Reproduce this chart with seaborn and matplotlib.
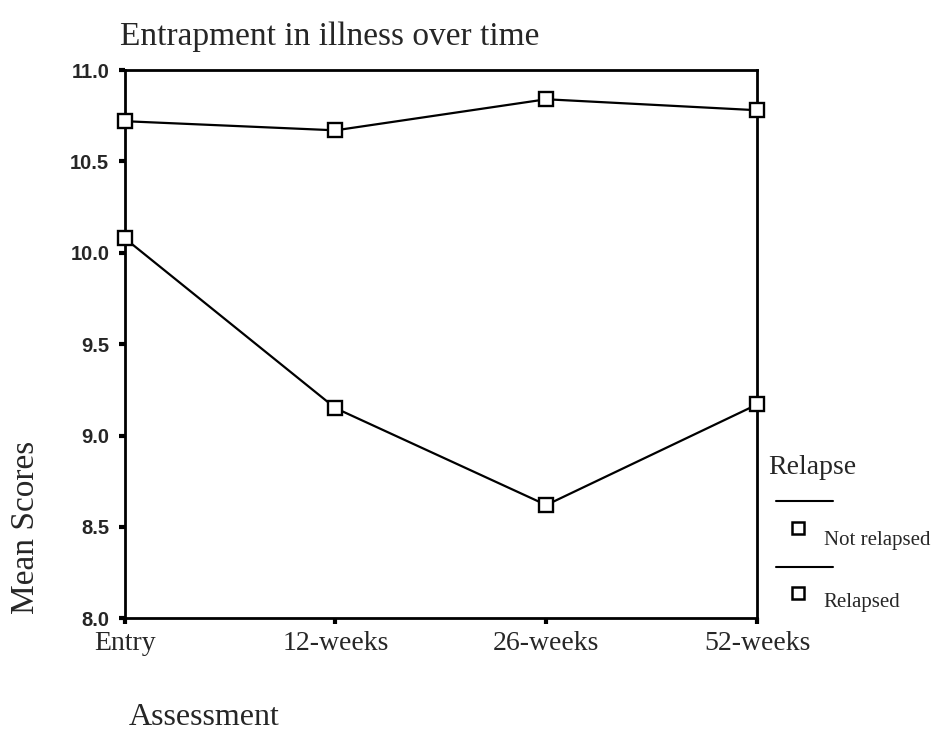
import pandas as pd
import seaborn as sns
import matplotlib.pyplot as plt
from matplotlib.lines import Line2D

# data
assessments = ['Entry', '12-weeks', '26-weeks', '52-weeks']
not_relapsed = [10.72, 10.67, 10.84, 10.78]
relapsed = [10.08, 9.15, 8.62, 9.17]

df = pd.DataFrame({
    'Assessment': assessments * 2,
    'Mean Scores': not_relapsed + relapsed,
    'Relapse': ['Not relapsed'] * 4 + ['Relapsed'] * 4,
})
df['pos'] = df['Assessment'].map({a: i for i, a in enumerate(assessments)})

sns.set_style('white')
serif = ['Liberation Serif', 'DejaVu Serif']
sans = ['Liberation Sans', 'DejaVu Sans']

fig = plt.figure(figsize=(9.37, 7.37), dpi=100)
ax = fig.add_axes([0.133, 0.161, 0.675, 0.744])

sns.lineplot(data=df, x='pos', y='Mean Scores', hue='Relapse',
             palette=['black', 'black'], marker='s', markersize=9.5,
             markerfacecolor='white', markeredgecolor='black',
             markeredgewidth=1.7, linewidth=1.6, legend=False, ax=ax,
             clip_on=False, zorder=3)

ax.set_xlim(0, 3)
ax.set_ylim(8.0, 11.0)
ax.set_xticks(range(4))
ax.set_xticklabels(assessments, fontfamily=serif, fontsize=20)
ax.set_yticks([8.0, 8.5, 9.0, 9.5, 10.0, 10.5, 11.0])
ax.set_yticklabels(['8.0', '8.5', '9.0', '9.5', '10.0', '10.5', '11.0'],
                   fontfamily=sans, fontsize=14.5, fontweight='bold')
ax.tick_params(axis='both', which='major', direction='out', length=4,
               width=3, color='black', left=True, bottom=True)
ax.tick_params(axis='y', pad=7)
ax.tick_params(axis='x', pad=5)
ax.set_xlabel('')
ax.set_ylabel('')
for s in ax.spines.values():
    s.set_color('black')
    s.set_linewidth(2)

fig.text(0.128, 0.950, 'Entrapment in illness over time', fontfamily=serif,
         fontsize=24, va='center', ha='left')
fig.text(0.027, 0.285, 'Mean Scores', fontfamily=serif, fontsize=24,
         rotation=90, va='center', ha='center')
fig.text(0.137, 0.027, 'Assessment', fontfamily=serif, fontsize=23,
         va='center', ha='left')

# legend drawn beside the axes
fig.text(0.820, 0.365, 'Relapse', fontfamily=serif, fontsize=20,
         va='center', ha='left')
for y in [0.320, 0.231]:
    fig.add_artist(Line2D([0.828, 0.889], [y, y], color='black', linewidth=1.5))
for y_m, y_t, lab in [(0.284, 0.267, 'Not relapsed'), (0.195, 0.182, 'Relapsed')]:
    fig.add_artist(Line2D([0.852], [y_m], marker='s', markersize=8.5,
                          markerfacecolor='white', markeredgecolor='black',
                          markeredgewidth=1.8))
    fig.text(0.879, y_t, lab, fontfamily=serif, fontsize=15,
             va='center', ha='left')

fig.savefig('out.png', dpi=100, facecolor='white')
